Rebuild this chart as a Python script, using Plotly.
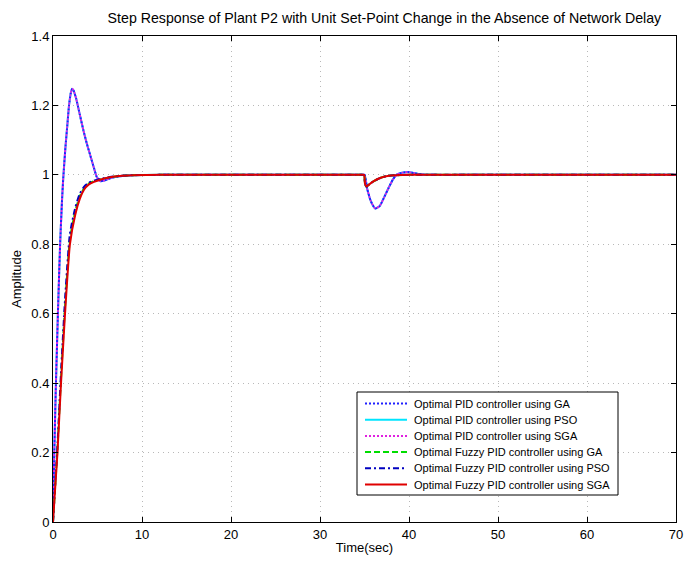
import plotly.graph_objects as go

# Time grids (seconds)
t_pid = [0, 0.1, 0.3, 0.55, 0.8, 1.0, 1.15, 1.4, 1.6, 1.8, 2.0, 2.15, 2.3, 2.6,
         3.0, 3.4, 3.8, 4.2, 4.6, 4.9, 5.3, 5.8, 6.5, 7.5, 9, 12, 16, 20, 24,
         28, 32, 34.6, 35, 35.3, 35.7, 36.2, 36.7, 37.2, 37.7, 38.2, 38.6, 39.2,
         39.9, 40.6, 41.5, 43, 46, 50, 55, 60, 65, 70]
t_fz = [0, 0.25, 0.5, 0.9, 1.35, 1.9, 2.5, 3.0, 3.5, 4.0, 4.6, 5.3, 6.4, 7.5,
        9, 12, 16, 20, 24, 28, 32, 34.6, 34.95, 35.05, 35.2, 35.5, 36.0, 36.5,
        37.0, 37.6, 38.5, 40, 43, 46, 50, 55, 60, 65, 70]

# Optimal PID controllers
pid_ga = [0, 0.15, 0.37, 0.6, 0.8, 0.92, 0.99, 1.08, 1.14, 1.2, 1.236, 1.248,
          1.244, 1.22, 1.175, 1.13, 1.09, 1.055, 1.02, 0.995, 0.982, 0.984,
          0.991, 0.996, 0.999, 1.0, 1.0, 1.0, 1.0, 1.0, 1.0, 1.0, 1.0, 0.96,
          0.925, 0.903, 0.91, 0.935, 0.962, 0.987, 1.0, 1.006, 1.008, 1.005,
          1.001, 1.0, 1.0, 1.0, 1.0, 1.0, 1.0, 1.0]
pid_pso = [0, 0.15, 0.37, 0.6, 0.8, 0.92, 0.99, 1.08, 1.14, 1.2, 1.236, 1.247,
           1.243, 1.22, 1.175, 1.13, 1.09, 1.055, 1.02, 0.995, 0.982, 0.984,
           0.991, 0.996, 0.999, 1.0, 1.0, 1.0, 1.0, 1.0, 1.0, 1.0, 1.0, 0.96,
           0.925, 0.903, 0.91, 0.935, 0.962, 0.987, 1.0, 1.006, 1.008, 1.005,
           1.001, 1.0, 1.0, 1.0, 1.0, 1.0, 1.0, 1.0]
pid_sga = [0, 0.15, 0.37, 0.6, 0.8, 0.92, 0.99, 1.08, 1.14, 1.2, 1.236, 1.248,
           1.244, 1.22, 1.175, 1.13, 1.09, 1.055, 1.02, 0.995, 0.982, 0.984,
           0.991, 0.996, 0.999, 1.0, 1.0, 1.0, 1.0, 1.0, 1.0, 1.0, 1.0, 0.96,
           0.925, 0.903, 0.91, 0.935, 0.962, 0.987, 1.0, 1.006, 1.008, 1.005,
           1.001, 1.0, 1.0, 1.0, 1.0, 1.0, 1.0, 1.0]

# Optimal fuzzy PID controllers
fz_ga = [0, 0.105, 0.21, 0.415, 0.62, 0.815, 0.895, 0.938, 0.962, 0.975, 0.982,
         0.987, 0.993, 0.997, 0.999, 1.0, 1.0, 1.0, 1.0, 1.0, 1.0, 1.0, 1.0,
         0.975, 0.966, 0.972, 0.981, 0.988, 0.993, 0.997, 0.999, 1.0, 1.0, 1.0,
         1.0, 1.0, 1.0, 1.0, 1.0]
fz_pso = [0, 0.11, 0.22, 0.43, 0.64, 0.83, 0.905, 0.945, 0.966, 0.977, 0.983,
          0.988, 0.994, 0.997, 0.999, 1.0, 1.0, 1.0, 1.0, 1.0, 1.0, 1.0, 1.0,
          0.975, 0.966, 0.972, 0.981, 0.988, 0.993, 0.997, 0.999, 1.0, 1.0, 1.0,
          1.0, 1.0, 1.0, 1.0, 1.0]
fz_sga = [0, 0.1, 0.2, 0.4, 0.6, 0.8, 0.885, 0.93, 0.958, 0.972, 0.98, 0.986,
          0.993, 0.997, 0.999, 1.0, 1.0, 1.0, 1.0, 1.0, 1.0, 1.0, 1.0,
          0.975, 0.966, 0.972, 0.981, 0.988, 0.993, 0.997, 0.999, 1.0, 1.0, 1.0,
          1.0, 1.0, 1.0, 1.0, 1.0]

names = [
    "Optimal PID controller using GA",
    "Optimal PID controller using PSO",
    "Optimal PID controller using SGA",
    "Optimal Fuzzy PID controller using GA",
    "Optimal Fuzzy PID controller using PSO",
    "Optimal Fuzzy PID controller using SGA",
]
times = [t_pid, t_pid, t_pid, t_fz, t_fz, t_fz]
values = [pid_ga, pid_pso, pid_sga, fz_ga, fz_pso, fz_sga]
colors = ["#2020ff", "#00e5ff", "#e020e0", "#00dd00", "#0000c0", "#e00000"]
dashes = ["2px,2px", "solid", "0px,2px,2px,0px", "6px,3px", "6px,3px,2px,3px", "solid"]
# drawing order: cyan underneath, the two dotted PID curves interleaved on top,
# then the fuzzy controllers with the SGA result last
draw_order = [1, 0, 2, 3, 4, 5]

x_ticks = [0, 10, 20, 30, 40, 50, 60, 70]
y_ticks = [0, 0.2, 0.4, 0.6, 0.8, 1.0, 1.2, 1.4]
y_labels = ["0", "0.2", "0.4", "0.6", "0.8", "1", "1.2", "1.4"]

fig = go.Figure()
for i in draw_order:
    fig.add_trace(go.Scatter(
        x=times[i], y=values[i], name=names[i], mode="lines", showlegend=False,
        line=dict(color=colors[i], dash=dashes[i], width=2,
                  shape="spline", smoothing=0.5),
    ))

font_family = "Liberation Sans, Arial, sans-serif"
axis_common = dict(
    showline=True, linecolor="black", linewidth=1, mirror="ticks",
    ticks="inside", ticklen=5, tickcolor="black", automargin=False,
    showgrid=True, gridcolor="#b8b8b8", griddash="1px,4px", gridwidth=1,
    zeroline=False, tickfont=dict(size=13, color="black", family=font_family),
)

# Boxed legend in the lower right of the axes (paper coordinates)
plot_l, plot_r, plot_t, plot_b = 53, 676, 36, 522
pw, ph = plot_r - plot_l, plot_b - plot_t


def px(x):
    return (x - plot_l) / pw


def py(y):
    return (plot_b - y) / ph


shapes = [dict(type="rect", xref="paper", yref="paper",
               x0=px(357), x1=px(618), y0=py(495), y1=py(392),
               line=dict(color="black", width=1), fillcolor="white", layer="above")]
annotations = []
row0, row_step = 403.5, 16.2
for k in range(len(names)):
    yc = row0 + k * row_step
    shapes.append(dict(type="line", xref="paper", yref="paper",
                       x0=px(365), x1=px(407), y0=py(yc), y1=py(yc),
                       line=dict(color=colors[k], width=2,
                                 dash=dashes[k] if dashes[k] != "0px,2px,2px,0px" else "2px,2px"),
                       layer="above"))
    annotations.append(dict(xref="paper", yref="paper", x=px(412), y=py(yc),
                            xanchor="left", yanchor="middle", showarrow=False,
                            text=names[k], font=dict(size=11, color="black")))

fig.update_layout(
    width=684, height=563,
    margin=dict(l=plot_l, r=684 - plot_r, t=plot_t, b=563 - plot_b),
    paper_bgcolor="white", plot_bgcolor="white",
    font=dict(family=font_family, color="black"),
    title=dict(
        text="Step Response of Plant P2 with Unit Set-Point Change in the Absence of Network Delay",
        x=0.562, xanchor="center", y=0.968, yanchor="middle",
        font=dict(size=14.2, color="black"),
    ),
    xaxis=dict(range=[0, 70], tickvals=x_ticks,
               title=dict(text="Time(sec)", font=dict(size=13), standoff=2),
               **axis_common),
    yaxis=dict(range=[0, 1.4], tickvals=y_ticks, ticktext=y_labels,
               title=dict(text="Amplitude", font=dict(size=13), standoff=6),
               **axis_common),
    shapes=shapes,
    annotations=annotations,
    showlegend=False,
)

fig.write_html("out.html")
